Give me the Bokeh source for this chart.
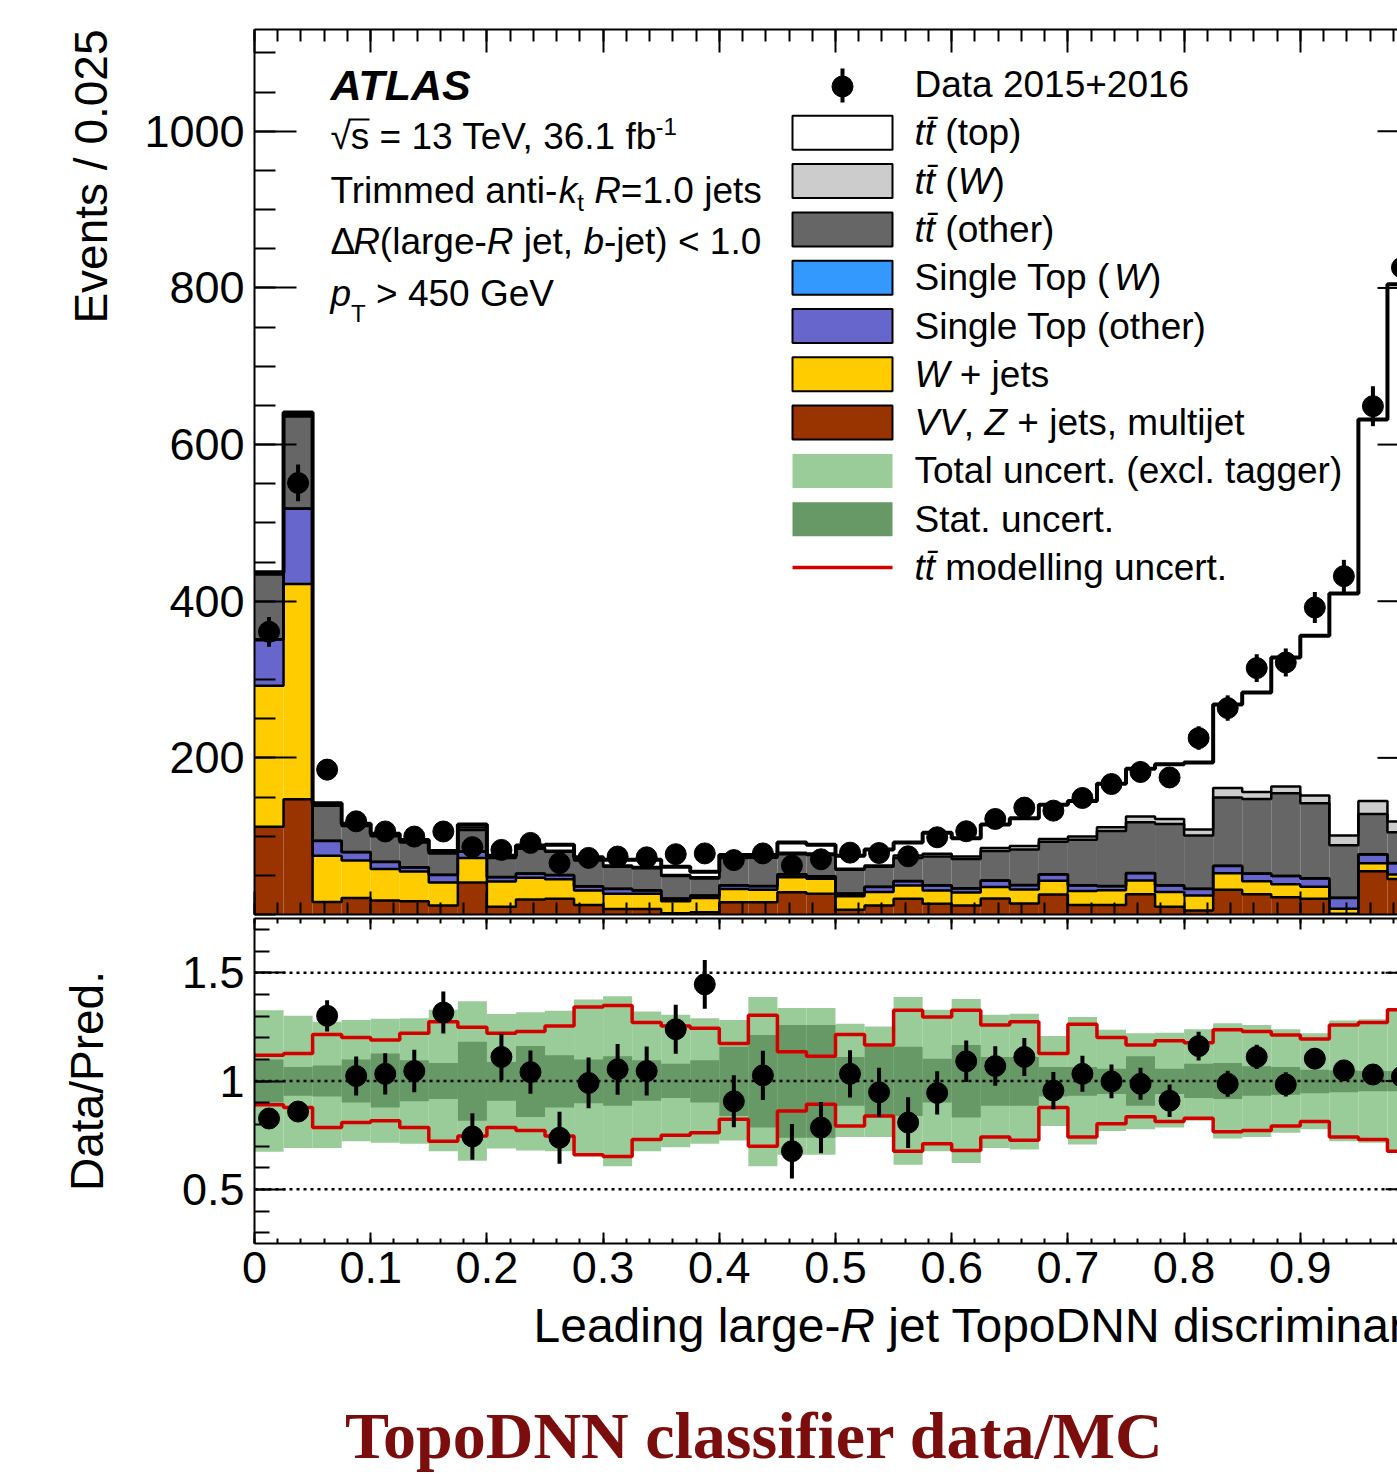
import math
from bokeh.plotting import figure
from bokeh.models import FixedTicker, NumeralTickFormatter, LinearAxis, Label, Range1d, Title
from bokeh.layouts import column
from bokeh.embed import file_html
from bokeh.resources import INLINE

# ---------------- data ----------------
N_BINS = 40
BIN_W = 0.025

vv       = [112, 147, 16, 21, 18, 17, 11.5, 41, 10, 19, 20, 12, 7, 7, 1.5, 3, 15.7, 15.7, 28.5, 26.4,
            6, 11.5, 20, 13.6, 11.5, 20.5, 14, 25.5, 12, 12, 26, 10, 5, 31.5, 26, 22, 20, 1, 55.2, 45.4]
wjets    = [180, 275, 59, 48, 40, 38, 29.5, 31, 32, 28, 25, 18.6, 19.4, 19.4, 15.5, 18, 17, 15.8, 19.1, 19.1,
            17.4, 17.1, 17, 17, 16.5, 14.5, 18, 17.5, 18, 19, 17.4, 18.6, 19.2, 21.2, 16.5, 16.7, 15.3, 6.2, 10.3, 5.6]
st_other = [59, 96, 19, 10.5, 9, 5, 9.5, 8, 5.5, 5, 5, 5.1, 6.3, 4.2, 3, 3, 4.3, 4.5, 3.4, 3,
            3, 6.4, 5.5, 6.4, 5.2, 8, 5.5, 8, 7, 5, 9.2, 8.4, 8.5, 9.3, 9.5, 10.3, 10.7, 14, 11, 14.4]
st_w     = [0.3] * 40
tt_other = [82.7, 117.7, 44.7, 33.2, 32.7, 31.7, 27.2, 27.7, 24.2, 31.7, 29.7, 33, 28, 28.1, 28.7, 21.7, 34.7, 36.2, 25.7, 27.2,
            30.3, 25.7, 29.5, 36.9, 37.5, 37.7, 45.2, 41.7, 58, 70.2, 64.9, 78.3, 68, 87.2, 95.2, 105.4, 95.7, 67, 51.6, 39.3]
tt_w     = [2, 2, 1.5, 1.5, 1.5, 1.5, 1.5, 3, 1.5, 1.5, 1.5, 1.5, 1.5, 1.5, 1.5, 1.5, 1.5, 1.5, 2, 2,
            1.5, 1.5, 3, 3.4, 3, 4, 4.5, 3.5, 4.2, 4.9, 7.2, 6.4, 7.5, 12, 9, 8.8, 10, 12.5, 16.6, 13.6]
tt_top   = [1, 3, 1.5, 1.5, 1.5, 1.5, 1.5, 4, 1.5, 2.5, 7.5, 2.5, 7.5, 9.5, 10.5, 7, 2.5, 2, 13, 11,
            16.5, 20.5, 16.7, 26.9, 23.5, 30, 35.5, 43.5, 45.5, 55.6, 61, 70, 85.5, 106.5, 127, 164.5, 204, 309, 487, 686]

data     = [361, 551, 185, 119, 106, 99.5, 106, 86, 82.5, 91.4, 65.6, 72.3, 74, 73, 77, 78, 69.5, 78, 62.6, 70.5,
            79, 78.5, 74.3, 98.6, 106.3, 122, 136.5, 132.6, 148.8, 166.6, 182, 175, 225.3, 263.6, 314.6, 321.8, 392, 432, 649, 826]
data_err = [19, 23.5, 13.6, 11, 10.3, 10, 10.3, 9.3, 9.1, 9.6, 8.1, 8.5, 8.6, 8.5, 8.8, 8.8, 8.3, 8.8, 7.9, 8.4,
            8.9, 8.9, 8.6, 9.9, 10.3, 11, 11.7, 11.5, 12.2, 12.9, 13.5, 13.2, 15, 16.2, 17.7, 17.9, 19.8, 20.8, 25.5, 28.7]

ratio     = [0.827, 0.859, 1.301, 1.023, 1.033, 1.046, 1.316, 0.744, 1.111, 1.041, 0.738, 0.991, 1.054, 1.046, 1.239, 1.446, 0.906, 1.026, 0.676, 0.785,
             1.033, 0.948, 0.808, 0.945, 1.091, 1.069, 1.111, 0.956, 1.033, 0.998, 0.987, 0.909, 1.161, 0.987, 1.111, 0.984, 1.103, 1.049, 1.030, 1.02]
ratio_err = [0.04, 0.04, 0.072, 0.09, 0.095, 0.098, 0.097, 0.107, 0.107, 0.10, 0.12, 0.117, 0.117, 0.113, 0.113, 0.113, 0.12, 0.114, 0.126, 0.118,
             0.109, 0.113, 0.117, 0.10, 0.096, 0.091, 0.088, 0.086, 0.083, 0.078, 0.074, 0.075, 0.066, 0.06, 0.056, 0.056, 0.047, 0.045, 0.035, 0.03]

tot_up  = [1.326, 1.301, 1.274, 1.282, 1.287, 1.29, 1.329, 1.368, 1.309, 1.317, 1.324, 1.376, 1.391, 1.321, 1.306, 1.29, 1.282, 1.388, 1.337, 1.337,
           1.264, 1.251, 1.388, 1.329, 1.379, 1.306, 1.310, 1.208, 1.295, 1.236, 1.220, 1.223, 1.239, 1.267, 1.259, 1.239, 1.220, 1.279, 1.285, 1.337]
tot_dn  = [0.673, 0.691, 0.691, 0.722, 0.715, 0.71, 0.676, 0.632, 0.688, 0.679, 0.676, 0.660, 0.606, 0.676, 0.694, 0.71, 0.725, 0.606, 0.660, 0.660,
           0.741, 0.741, 0.613, 0.676, 0.621, 0.691, 0.684, 0.792, 0.707, 0.769, 0.777, 0.785, 0.816, 0.735, 0.741, 0.761, 0.777, 0.722, 0.715, 0.668]
stat_up = [1.099, 1.065, 1.072, 1.099, 1.127, 1.096, 1.083, 1.181, 1.088, 1.161, 1.119, 1.099, 1.114, 1.096, 1.08, 1.096, 1.158, 1.212, 1.259, 1.259,
           1.111, 1.158, 1.158, 1.103, 1.166, 1.111, 1.111, 1.065, 1.065, 1.057, 1.114, 1.057, 1.080, 1.083, 1.068, 1.065, 1.052, 1.049, 1.046, 1.046]
stat_dn = [0.901, 0.932, 0.928, 0.901, 0.878, 0.906, 0.917, 0.816, 0.909, 0.834, 0.878, 0.897, 0.886, 0.909, 0.921, 0.901, 0.839, 0.785, 0.738, 0.738,
           0.886, 0.839, 0.839, 0.901, 0.831, 0.886, 0.886, 0.928, 0.932, 0.94, 0.886, 0.94, 0.921, 0.917, 0.932, 0.937, 0.943, 0.948, 0.953, 0.953]
mod_up  = [1.119, 1.127, 1.215, 1.201, 1.189, 1.220, 1.274, 1.248, 1.220, 1.228, 1.254, 1.341, 1.348, 1.270, 1.254, 1.244, 1.173, 1.303, 1.135, 1.114,
           1.215, 1.166, 1.326, 1.295, 1.326, 1.259, 1.274, 1.127, 1.262, 1.201, 1.166, 1.186, 1.176, 1.236, 1.228, 1.212, 1.194, 1.259, 1.270, 1.329]
mod_dn  = [0.890, 0.878, 0.785, 0.808, 0.816, 0.785, 0.722, 0.746, 0.785, 0.772, 0.746, 0.660, 0.652, 0.730, 0.750, 0.761, 0.824, 0.699, 0.862, 0.893,
           0.792, 0.839, 0.676, 0.710, 0.679, 0.741, 0.726, 0.878, 0.741, 0.803, 0.835, 0.813, 0.828, 0.766, 0.772, 0.792, 0.813, 0.741, 0.730, 0.676]

y_major = [200, 400, 600, 800, 1000]
r_major = [0.5, 1.0, 1.5]
x_major = [0, 0.1, 0.2, 0.3, 0.4, 0.5, 0.6, 0.7, 0.8, 0.9, 1.0]

legend_rows = [
    [("Data 2015+2016", "normal")],
    [("tt\u0304", "italic"), (" (top)", "normal")],
    [("tt\u0304", "italic"), (" (", "normal"), ("W", "italic"), (")", "normal")],
    [("tt\u0304", "italic"), (" (other)", "normal")],
    [("Single Top (", "normal"), ("W", "italic"), (")", "normal")],
    [("Single Top (other)", "normal")],
    [("W", "italic"), (" + jets", "normal")],
    [("VV", "italic"), (", ", "normal"), ("Z", "italic"), (" + jets, multijet", "normal")],
    [("Total uncert. (excl. tagger)", "normal")],
    [("Stat. uncert.", "normal")],
    [("tt\u0304", "italic"), (" modelling uncert.", "normal")],
]

C_VV, C_WJ, C_STO, C_STW = "#993300", "#ffcc00", "#6666cc", "#3399ff"
C_TTO, C_TTW, C_TTT = "#666666", "#cccccc", "#ffffff"
C_TOT, C_STAT, C_RED = "#99cc99", "#669966", "#d40000"

# ---------------- geometry ----------------
W_PAGE = 1397
X0PX = 254.0
XPX = 1162.0
XMAX = (W_PAGE - X0PX) / XPX
F1_TOP, F1_BOT = 29.0, 914.0
Y1MAX = 1130.0
Y1PX = (F1_BOT - F1_TOP) / Y1MAX
R_MIN, R_MAX = 0.25, 1.75
P3_TOP = 1297.0
P3_H = 178

def dx(px):
    return (px - X0PX) / XPX

def dy1(py):
    return (F1_BOT - py) / Y1PX

def dy3(py):
    return py - P3_TOP

FONT = "Liberation Sans"
TS = 37
CW = {' ': 278, '!': 278, '(': 333, ')': 333, '+': 584, ',': 278, '-': 333, '.': 278, '/': 278, '<': 584,
      '=': 584, '>': 584, 'A': 667, 'B': 667, 'C': 722, 'D': 722, 'E': 667, 'F': 611, 'G': 778, 'H': 722,
      'I': 278, 'J': 500, 'K': 667, 'L': 556, 'M': 833, 'N': 722, 'O': 778, 'P': 667, 'Q': 778, 'R': 722,
      'S': 667, 'T': 611, 'U': 722, 'V': 667, 'W': 944, 'X': 667, 'Y': 667, 'Z': 611, 'a': 556, 'b': 556,
      'c': 500, 'd': 556, 'e': 556, 'f': 278, 'g': 556, 'h': 556, 'i': 222, 'j': 222, 'k': 500, 'l': 222,
      'm': 833, 'n': 556, 'o': 556, 'p': 556, 'q': 556, 'r': 333, 's': 500, 't': 278, 'u': 556, 'v': 500,
      'w': 722, 'x': 500, 'y': 500, 'z': 500, '\u0394': 612, '\u221a': 549, '\u0304': 0}

def tw(txt, size):
    return sum(CW.get(c, 556) for c in txt) * size / 1000.0

def place(fig, segs, x_px, c_py, ymap, color="black", font=FONT):
    """Place a run of differently styled text pieces side by side (centre line c_py)."""
    x = x_px
    for seg in segs:
        txt, style = seg[0], seg[1]
        size = seg[2] if len(seg) > 2 else TS
        dyp = seg[3] if len(seg) > 3 else 0
        x += seg[4] if len(seg) > 4 else 0
        lead = len(txt) - len(txt.lstrip(" "))
        x += tw(" " * lead, size)
        body = txt.strip(" ")
        if body:
            fig.add_layout(Label(x=dx(x), y=ymap(c_py + dyp), text=body, text_font=font,
                                 text_font_style=style, text_font_size=f"{size}px",
                                 text_baseline="middle", text_align="left", text_color=color))
        x += tw(txt[lead:], size)

def style_axis(ax, tin, tmin, labels, size="45px", standoff=10):
    ax.axis_line_width = 2
    ax.axis_line_color = "black"
    ax.major_tick_in = tin
    ax.major_tick_out = 0
    ax.minor_tick_in = tmin
    ax.minor_tick_out = 0
    ax.major_tick_line_width = 2
    ax.minor_tick_line_width = 2
    ax.major_tick_line_color = "black"
    ax.minor_tick_line_color = "black"
    if labels:
        ax.major_label_text_font = FONT
        ax.major_label_text_font_size = size
        ax.major_label_text_color = "black"
        ax.major_label_standoff = standoff
    else:
        ax.major_label_text_font_size = "0px"
        ax.major_label_standoff = 0

edges = [BIN_W * i for i in range(N_BINS + 1)]
lefts, rights = edges[:-1], edges[1:]
centers = [(a + b) / 2 for a, b in zip(lefts, rights)]
x_minor = [round(0.02 * k, 4) for k in range(51)]

def xticker():
    return FixedTicker(ticks=x_major, minor_ticks=x_minor)

def clean(p):
    p.outline_line_color = None
    p.grid.visible = False
    p.background_fill_color = "white"
    p.border_fill_color = "white"

# ---------------- main figure ----------------
p1 = figure(width=W_PAGE, height=916, x_range=Range1d(0, XMAX), y_range=Range1d(0, Y1MAX),
            output_backend="svg", toolbar_location=None, x_axis_location=None, y_axis_location=None,
            min_border_left=254, min_border_right=0, min_border_top=29, min_border_bottom=2)
clean(p1)

ly = LinearAxis(ticker=FixedTicker(ticks=y_major, minor_ticks=[50 * k for k in range(23)]))
style_axis(ly, 42, 21, True)
p1.add_layout(ly, "left")
p1.add_layout(Title(text="Events / 0.025", align="right", text_font=FONT, text_font_size="46px",
                    text_font_style="normal", text_color="black", standoff=49), "left")
lb = LinearAxis(ticker=xticker())
style_axis(lb, 23, 12, False)
p1.add_layout(lb, "below")
lt = LinearAxis(ticker=xticker())
style_axis(lt, 23, 12, False)
p1.add_layout(lt, "above")

layers = [(vv, C_VV), (wjets, C_WJ), (st_other, C_STO), (st_w, C_STW),
          (tt_other, C_TTO), (tt_w, C_TTW), (tt_top, C_TTT)]
bottom = [0.0] * N_BINS
tops = []
for vals, col in layers:
    top = [b + v for b, v in zip(bottom, vals)]
    p1.quad(left=lefts, right=rights, bottom=bottom, top=top, fill_color=col, line_color=None)
    tops.append(top)
    bottom = top
for k, top in enumerate(tops):
    lw = 4 if k == len(tops) - 1 else 2.5
    p1.step(x=edges, y=top + [top[-1]], mode="after", line_color="black", line_width=lw)

p1.segment(x0=centers, y0=[d - e for d, e in zip(data, data_err)], x1=centers,
           y1=[d + e for d, e in zip(data, data_err)], line_color="black", line_width=4)
p1.scatter(x=centers, y=data, size=21, fill_color="black", line_color="black")

# right-edge ticks (the frame continues beyond the visible window)
p1.segment(x0=[XMAX - 20 / XPX] * len(y_major), y0=y_major, x1=[XMAX] * len(y_major), y1=y_major,
           line_color="black", line_width=2)

# legend
row_c = [84 + 48.3 * i for i in range(len(legend_rows))]
box_cols = [None, C_TTT, C_TTW, C_TTO, C_STW, C_STO, C_WJ, C_VV, C_TOT, C_STAT, None]
for i, c in enumerate(row_c):
    col = box_cols[i]
    if col is not None:
        outline = "black" if i <= 7 else None
        p1.quad(left=[dx(792)], right=[dx(892)], top=[dy1(c - 17)], bottom=[dy1(c + 17)],
                fill_color=col, line_color=outline, line_width=2)
    place(p1, legend_rows[i], 914, c, dy1)
p1.segment(x0=[dx(842)], y0=[dy1(row_c[0] - 16)], x1=[dx(842)], y1=[dy1(row_c[0] + 18)],
           line_color="black", line_width=4)
p1.scatter(x=[dx(842)], y=[dy1(row_c[0] + 2)], size=21, fill_color="black", line_color="black")
p1.segment(x0=[dx(792)], y0=[dy1(row_c[10])], x1=[dx(892)], y1=[dy1(row_c[10])],
           line_color=C_RED, line_width=3.5)

# ATLAS block
p1.add_layout(Label(x=dx(330), y=dy1(84), text="ATLAS", text_font=FONT, text_font_style="bold italic",
                    text_font_size="43px", text_baseline="middle", text_color="black"))
place(p1, [("\u221as = 13 TeV, 36.1 fb", "normal"), ("-1", "normal", 24, -10, -9)], 330, 136, dy1)
p1.segment(x0=[dx(348)], y0=[dy1(119)], x1=[dx(369)], y1=[dy1(119)], line_color="black", line_width=2)
place(p1, [("Trimmed anti-", "normal"), ("k", "italic"), ("t", "normal", 24, 12), (" ", "normal"),
           ("R", "italic"), ("=1.0 jets", "normal")], 330, 190, dy1)
place(p1, [("\u0394", "normal"), ("R", "italic"), ("(large-", "normal"), ("R", "italic"),
           (" jet, ", "normal"), ("b", "italic"), ("-jet) < 1.0", "normal")], 330, 241, dy1)
place(p1, [("p", "italic"), ("T", "normal", 24, 20), (" > 450 GeV", "normal")], 330, 293, dy1)

# ---------------- ratio figure ----------------
p2 = figure(width=W_PAGE, height=381, x_range=p1.x_range, y_range=Range1d(R_MIN, R_MAX),
            output_backend="svg", toolbar_location=None, x_axis_location=None, y_axis_location=None,
            min_border_left=254, min_border_right=0, min_border_top=2, min_border_bottom=54)
clean(p2)

ry = LinearAxis(ticker=FixedTicker(ticks=r_major, minor_ticks=[round(0.3 + 0.1 * k, 2) for k in range(15)]),
                formatter=NumeralTickFormatter(format="0.[0]"))
style_axis(ry, 31, 15, True)
ry.axis_label = "Data/Pred."
ry.axis_label_text_font = FONT
ry.axis_label_text_font_size = "46px"
ry.axis_label_text_font_style = "normal"
ry.axis_label_text_color = "black"
ry.axis_label_standoff = 66
p2.add_layout(ry, "left")
rb = LinearAxis(ticker=xticker(), formatter=NumeralTickFormatter(format="0.[0]"))
style_axis(rb, 11, 5, True, standoff=8)
p2.add_layout(rb, "below")
rt = LinearAxis(ticker=xticker())
style_axis(rt, 11, 5, False)
p2.add_layout(rt, "above")

p2.quad(left=lefts, right=rights, bottom=tot_dn, top=tot_up, fill_color=C_TOT, line_color=None)
p2.quad(left=lefts, right=rights, bottom=stat_dn, top=stat_up, fill_color=C_STAT, line_color=None)
p2.step(x=edges, y=mod_up + [mod_up[-1]], mode="after", line_color=C_RED, line_width=3.5)
p2.step(x=edges, y=mod_dn + [mod_dn[-1]], mode="after", line_color=C_RED, line_width=3.5)
p2.segment(x0=[0] * 3, y0=r_major, x1=[XMAX] * 3, y1=r_major, line_color="black",
           line_width=2.5, line_dash="3 4")
p2.segment(x0=[XMAX - 12 / XPX] * 3, y0=r_major, x1=[XMAX] * 3, y1=r_major,
           line_color="black", line_width=2)
p2.segment(x0=centers, y0=[r - e for r, e in zip(ratio, ratio_err)], x1=centers,
           y1=[r + e for r, e in zip(ratio, ratio_err)], line_color="black", line_width=4)
p2.scatter(x=centers, y=ratio, size=21, fill_color="black", line_color="black")

# ---------------- caption strip (x-axis title + slide title) ----------------
p3 = figure(width=W_PAGE, height=P3_H, x_range=Range1d(0, XMAX), y_range=Range1d(P3_H, 0),
            output_backend="svg", toolbar_location=None, x_axis_location=None, y_axis_location=None,
            min_border_left=254, min_border_right=0, min_border_top=0, min_border_bottom=0)
clean(p3)
place(p3, [("Leading large-", "normal", 48), ("R", "italic", 48), (" jet TopoDNN discriminant", "normal", 48)],
      533, 1325, dy3)
p3.add_layout(Label(x=dx(754), y=dy3(1435), text="TopoDNN classifier data/MC", text_font="Liberation Serif",
                    text_font_style="bold", text_font_size="66px", text_align="center",
                    text_baseline="middle", text_color="#7b0d0d"))

layout = column(p1, p2, p3)
open("out.html", "w").write(file_html(layout, INLINE))
